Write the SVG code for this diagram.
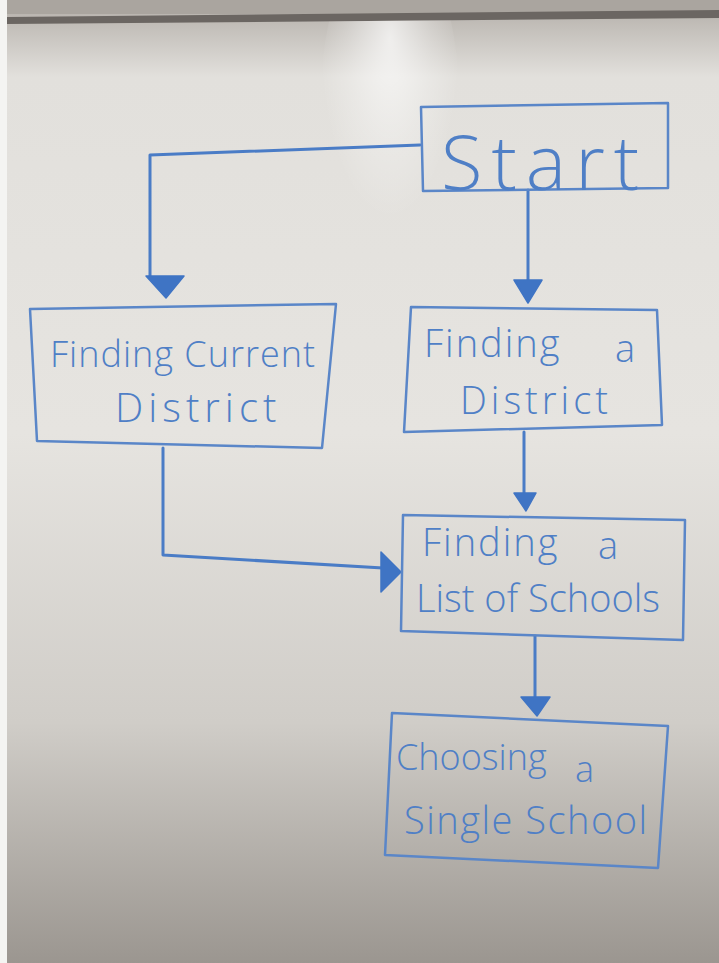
<svg xmlns="http://www.w3.org/2000/svg" width="719" height="963" viewBox="0 0 719 963">
<defs>
<linearGradient id="bg" x1="0" y1="0" x2="0" y2="1">
<stop offset="0" stop-color="#b2ada7"/>
<stop offset="0.08" stop-color="#e2e0dc"/>
<stop offset="0.45" stop-color="#e6e4e0"/>
<stop offset="0.75" stop-color="#d0cdc8"/>
<stop offset="1" stop-color="#9b9690"/>
</linearGradient>
<radialGradient id="glare" cx="0.5" cy="0.3" r="0.5">
<stop offset="0" stop-color="#ffffff" stop-opacity="0.7"/>
<stop offset="0.6" stop-color="#ffffff" stop-opacity="0.25"/>
<stop offset="1" stop-color="#ffffff" stop-opacity="0"/>
</radialGradient>
<clipPath id="board"><path d="M7,24 L719,18 L719,963 L7,963 Z"/></clipPath>
<style>
.box{fill:none;stroke:#5a86c8;stroke-width:2.5;stroke-linejoin:round}
.ln{fill:none;stroke:#4a7cc6;stroke-width:3;stroke-linecap:round;stroke-linejoin:round}
.head{fill:#3f74c4;stroke:#3f74c4;stroke-width:1.5;stroke-linejoin:round}
.t{font-family:"Open Sans","Liberation Sans",sans-serif;font-weight:300;fill:#4f7fc6}
</style>
</defs>
<rect x="0" y="0" width="719" height="963" fill="url(#bg)"/>
<rect x="0" y="0" width="7" height="963" fill="#f4f4f2"/>
<rect x="7" y="0" width="712" height="14" fill="#aaa59f"/>
<path d="M7,17 L719,10 L719,18 L7,24 Z" fill="#6b6662"/>
<ellipse cx="390" cy="110" rx="70" ry="180" fill="url(#glare)" clip-path="url(#board)"/>

<g id="connectors">
<path class="ln" d="M420,145 L150,155 L150,278"/>
<path class="head" d="M146,276 L184,276 L166,298 Z"/>
<path class="ln" d="M528,190 L528,282"/>
<path class="head" d="M514,280 L542,280 L528,303 Z"/>
<path class="ln" d="M524,432 L524,495"/>
<path class="head" d="M514,493 L536,493 L526,511 Z"/>
<path class="ln" d="M163,448 L163,555 L383,568"/>
<path class="head" d="M381,552 L401,572 L381,592 Z"/>
<path class="ln" d="M535,636 L535,698"/>
<path class="head" d="M521,697 L550,697 L537,716 Z"/>
</g>

<g id="start">
<path class="box" d="M421,107 L668,103 L668,188 L423,191 Z"/>
<text class="t" x="441" y="190" font-size="76" letter-spacing="9">Start</text>
</g>

<g id="finding-current-district">
<path class="box" d="M30,309 L336,304 L322,448 L37,441 Z"/>
<text class="t" x="50" y="367" font-size="36" letter-spacing="1">Finding Current</text>
<text class="t" x="115" y="422" font-size="40" letter-spacing="5">District</text>
</g>

<g id="finding-a-district">
<path class="box" d="M411,307 L657,310 L662,425 L404,432 Z"/>
<text class="t" x="424" y="357" font-size="38" letter-spacing="2">Finding</text>
<text class="t" x="615" y="362" font-size="38">a</text>
<text class="t" x="460" y="414" font-size="38" letter-spacing="4">District</text>
</g>

<g id="finding-list-of-schools">
<path class="box" d="M403,515 L685,520 L683,640 L401,631 Z"/>
<text class="t" x="422" y="556" font-size="38" letter-spacing="2">Finding</text>
<text class="t" x="598" y="559" font-size="38">a</text>
<text class="t" x="416" y="612" font-size="38">List of Schools</text>
</g>

<g id="choosing-single-school">
<path class="box" d="M392,713 L668,726 L658,868 L385,855 Z"/>
<text class="t" x="396" y="770" font-size="36">Choosing</text>
<text class="t" x="575" y="782" font-size="36">a</text>
<text class="t" x="404" y="834" font-size="38" letter-spacing="1.5">Single School</text>
</g>
</svg>
